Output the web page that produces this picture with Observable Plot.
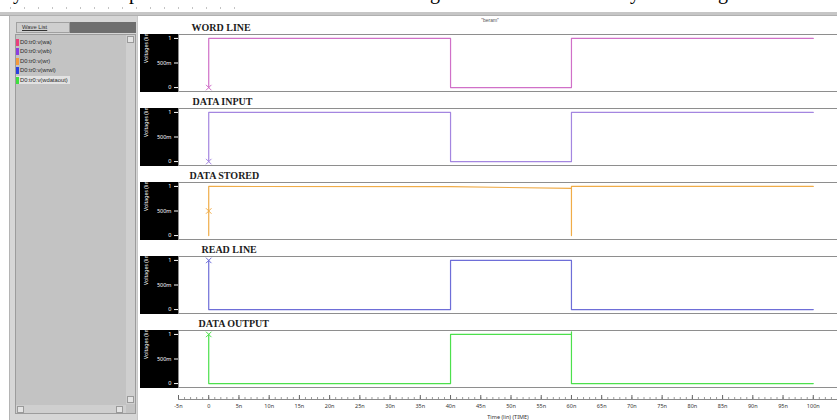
<!DOCTYPE html>
<html><head><meta charset="utf-8">
<script src="https://cdn.jsdelivr.net/npm/d3@7"></script>
<script src="https://cdn.jsdelivr.net/npm/@observablehq/plot@0.6"></script>
<style>
html,body{margin:0;padding:0;width:837px;height:420px;overflow:hidden;background:#fff;font-family:"Liberation Sans",Arial,sans-serif;}
#root{position:relative;width:837px;height:420px;overflow:hidden;background:#fff;}
.abs{position:absolute;box-sizing:border-box;}
.item{position:absolute;left:16px;height:8px;font-size:5.8px;line-height:8px;color:#2a2a2a;white-space:nowrap;}
.sw{display:inline-block;width:3px;height:7px;vertical-align:middle;margin-right:1px;}
.btn{position:absolute;background:#e4e4e4;border:1px solid #9a9a9a;box-sizing:border-box;}
.desc{position:absolute;top:-19px;font-family:"Liberation Serif",serif;font-size:20px;color:#000;}
</style></head><body><div id="root"></div>
<script>
// ---- data ----
const panelTitles = ["WORD LINE", "DATA INPUT", "DATA STORED", "READ LINE", "DATA OUTPUT"];
const waveNames = ["D0:tr0:v(wa)", "D0:tr0:v(wb)", "D0:tr0:v(wr)", "D0:tr0:v(wrwl)", "D0:tr0:v(wdataout)"];
const listColors = ["#e8407c", "#8a3ee0", "#f39a3c", "#2a3fe0", "#3fe03f"];
const lineColors = ["#d070c8", "#a486e0", "#f0ac48", "#6e6ed8", "#4ce04c"];

const wordLineTime  = [0, 0, 40, 40, 60, 60, 100];
const wordLineVolt  = [0, 1, 1, 0, 0, 1, 1];
const dataInputTime = [0, 0, 40, 40, 60, 60, 100];
const dataInputVolt = [0, 1, 1, 0, 0, 1, 1];
const dataStoredTime = [0, 0, 0, 40, 60, 60, 60, 100];
const dataStoredVolt = [0.5, 0, 1, 0.995, 0.96, 0, 1, 1];
const readLineTime  = [0, 0, 40, 40, 60, 60, 100];
const readLineVolt  = [1, 0, 0, 1, 1, 0, 0];
const dataOutTime   = [0, 0, 40, 40, 60, 60, 60, 100];
const dataOutVolt   = [1, 0, 0, 1, 1, 1.05, 0, 0];

const markerTime = [0, 0, 0, 0, 0];
const markerVolt = [0, 0, 0.5, 1, 1];

const yTicks = [0, 0.5, 1];
const yTickLabels = ["0", "500m", "1"];
const xMajorTicks = [-5, 0, 5, 10, 15, 20, 25, 30, 35, 40, 45, 50, 55, 60, 65, 70, 75, 80, 85, 90, 95, 100, 105];
const xTickLabels = ["-5n", "0", "5n", "10n", "15n", "20n", "25n", "30n", "35n", "40n", "45n", "50n", "55n", "60n", "65n", "70n", "75n", "80n", "85n", "90n", "95n", "100n", "105n"];
const xMinorTicks = d3.range(-5, 106, 1);

// ---- build tables ----
const series = [
  [wordLineTime, wordLineVolt],
  [dataInputTime, dataInputVolt],
  [dataStoredTime, dataStoredVolt],
  [readLineTime, readLineVolt],
  [dataOutTime, dataOutVolt]
];
const rows = series.flatMap(([ts, vs], i) => ts.map((t, j) => ({name: panelTitles[i], t, v: vs[j]})));
const markers = panelTitles.map((name, i) => ({name, t: markerTime[i], v: markerVolt[i]}));

const root = document.getElementById("root");

// ---- top decorations ----
root.insertAdjacentHTML("beforeend", `
  <div class="desc" style="left:13px">y</div>
  <div class="desc" style="left:129px">p</div>
  <div class="desc" style="left:430px">g</div>
  <div class="desc" style="left:630px">y</div>
  <div class="desc" style="left:718px">g</div>
  <div class="abs" style="left:10px;top:7px;width:230px;height:2px;background:repeating-linear-gradient(90deg,#c4c4c4 0 1px,transparent 1px 14px);"></div>
  <div class="abs" style="left:0;top:12px;width:837px;height:4px;background:#c6c6c6;border-bottom:1px solid #b0b0b0;"></div>
  <div class="abs" style="left:440px;top:17px;width:100px;text-align:center;font-size:5px;color:#555;">"beram"</div>
`);

// ---- panels ----
const titleDx = [13, 14, 11, 23, 20];
const plot1 = Plot.plot({
  width: 837, height: 389,
  marginTop: 32, marginBottom: 0, marginLeft: 178, marginRight: 0,
  style: {background: "transparent", overflow: "hidden"},
  facet: {marginTop: 0, marginRight: 0, marginBottom: 0, marginLeft: 0},
  x: {domain: [-5, 105], range: [178, 843], axis: null},
  y: {domain: [-0.08, 1.08], axis: null},
  fy: {domain: panelTitles, axis: null, paddingInner: 17 / 75, paddingOuter: 0},
  color: {domain: panelTitles, range: lineColors},
  marks: [
    Plot.frame({stroke: "#8e8e8e", insetRight: -10}),
    Plot.axisY({anchor: "left", ticks: yTicks, tickFormat: d => yTickLabels[yTicks.indexOf(d)],
      color: "white", tickSize: 4, tickPadding: 3, fontSize: 5.5, label: null}),
    ...panelTitles.map((t, i) => Plot.text([t], {fy: d => d, text: d => d, frameAnchor: "top-left",
      dx: titleDx[i], dy: -4, lineAnchor: "bottom", fontFamily: "Liberation Serif", fontWeight: "bold",
      fontSize: 10, fill: "#1c1c1c"})),
    Plot.text(panelTitles, {fy: d => d, text: () => "Voltages (lin)", frameAnchor: "left", dx: -32,
      rotate: -90, fill: "white", fontSize: 5.2}),
    Plot.line(rows, {x: "t", y: "v", fy: "name", z: "name", stroke: "name", strokeWidth: 1.2}),
    Plot.dot(markers, {x: "t", y: "v", fy: "name", stroke: "name", symbol: "times", r: 2.6, strokeWidth: 1})
  ]
});
plot1.style.position = "absolute";
plot1.style.left = "0px";
plot1.style.top = "0px";

// black y-axis boxes behind each panel
const fyScale = plot1.scale("fy");
const xRange = plot1.scale("x").range;
const boxes = d3.select(plot1).insert("g", "g");
panelTitles.forEach(name => {
  boxes.append("rect")
    .attr("x", 140).attr("y", fyScale.apply(name))
    .attr("width", xRange[0] - 140).attr("height", fyScale.bandwidth + 1)
    .attr("fill", "#000");
});
root.appendChild(plot1);

// ---- time axis ----
const plot2 = Plot.plot({
  width: 837, height: 31,
  marginTop: 6, marginBottom: 21, marginLeft: 178, marginRight: 0,
  style: {background: "transparent", overflow: "hidden"},
  x: {domain: [-5, 105], range: [178, 843], axis: null},
  y: {domain: [0, 1], axis: null},
  marks: [
    Plot.ruleY([0], {stroke: "#8a8a8a"}),
    Plot.tickX(xMinorTicks, {x: d => d, stroke: "#9a9a9a", insetTop: 2}),
    Plot.tickX(xMajorTicks, {x: d => d, stroke: "#666"}),
    Plot.axisX({anchor: "bottom", ticks: xMajorTicks, tickFormat: d => xTickLabels[xMajorTicks.indexOf(d)],
      tickSize: 0, tickPadding: 5, fontSize: 5.5, color: "#333",
      label: "Time (lin) (TIME)", labelAnchor: "center", labelArrow: "none", labelOffset: 19})
  ]
});
plot2.style.position = "absolute";
plot2.style.left = "0px";
plot2.style.top = "389px";
root.appendChild(plot2);

// ---- left wave list panel ----
let items = waveNames.map((w, i) => `<div class="item" style="top:${38 + i * 9.4}px;${i === 4 ? "background:#e2e2e2;padding-right:2px;" : ""}"><span class="sw" style="background:${listColors[i]}"></span>${w}</div>`).join("");
root.insertAdjacentHTML("beforeend", `
  <div class="abs" style="left:9px;top:16px;width:129px;height:404px;background:#d6d6d6;border-left:1px solid #b4b4b4;border-right:1px solid #c8c8c8;z-index:2"></div>
  <div class="abs" style="left:16px;top:22px;width:54px;height:11px;background:#cfcfcf;border:1px solid #a0a0a0;z-index:3;font-size:5.8px;line-height:9px;padding-left:5px;color:#333;"><span style="text-decoration:underline">Wave List</span></div>
  <div class="abs" style="left:70px;top:22px;width:66px;height:11px;background:#6e6e6e;z-index:3"></div>
  <div class="abs" style="left:15px;top:34px;width:121px;height:380px;background:#c3c3c3;border:1px solid #9c9c9c;z-index:3"></div>
  <div class="abs" style="left:126px;top:35px;width:9px;height:369px;background:#cfcfcf;z-index:4"></div>
  <div class="btn" style="left:127px;top:36px;width:7px;height:7px;z-index:5"></div>
  <div class="btn" style="left:127px;top:396px;width:7px;height:7px;z-index:5"></div>
  <div class="abs" style="left:16px;top:405px;width:110px;height:8px;background:#cfcfcf;z-index:4"></div>
  <div class="btn" style="left:17px;top:406px;width:7px;height:7px;z-index:5"></div>
  <div class="btn" style="left:116px;top:406px;width:7px;height:7px;z-index:5"></div>
  <div class="abs" style="left:0;top:0;z-index:6">${items}</div>
`);
</script></body></html>
